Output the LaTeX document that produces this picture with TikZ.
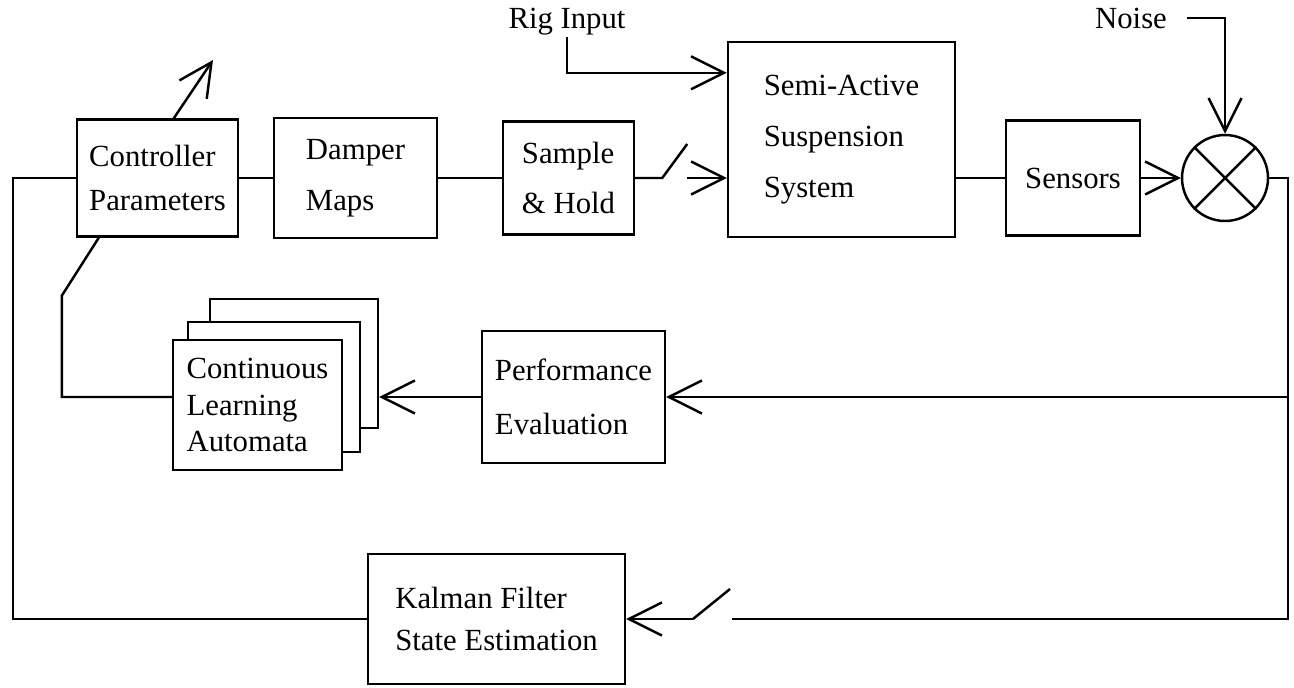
\documentclass[tikz,border=0pt]{standalone}
\usepackage{fontspec}
\setmainfont{Liberation Serif}
\usetikzlibrary{arrows.meta}

\begin{document}
\begin{tikzpicture}[
  x=0.02cm, y=-0.02cm,
  line width=1.4pt,
  >={Straight Barb[length=0.66cm,width=0.66cm]},
  blk/.style={draw,rectangle,align=left,inner sep=0pt,fill=white,
    font=\fontsize{17.5}{21}\selectfont},
  sumj/.style={draw,circle,minimum size=1.72cm,inner sep=0pt},
  lbl/.style={inner sep=0pt,font=\fontsize{17.5}{21}\selectfont}
  ]
  \useasboundingbox (0,0) rectangle (1294,687);

  \node[blk,minimum width=3.22cm,minimum height=2.34cm] (ctrl)   at (157.5,178) {Controller\\[4pt]Parameters};
  \node[blk,minimum width=3.26cm,minimum height=2.40cm] (damper) at (355.5,178) {Damper\\[8pt]Maps};
  \node[blk,minimum width=2.62cm,minimum height=2.26cm] (sh)     at (568.5,178) {Sample\\[8pt]\& Hold};
  \node[blk,minimum width=4.54cm,minimum height=3.90cm] (susp)   at (841.5,139.5) {Semi-Active\\[8pt]Suspension\\[8pt]System};
  \node[blk,minimum width=2.68cm,minimum height=2.30cm] (sens)   at (1073,178) {Sensors};
  \node[sumj]                                           (sum)    at (1225,178) {};

  \node[blk,minimum width=3.36cm,minimum height=2.58cm] (claC)   at (294,363.5) {};
  \node[blk,minimum width=3.44cm,minimum height=2.60cm] (claB)   at (274,387) {};
  \node[blk,minimum width=3.38cm,minimum height=2.60cm] (cla)    at (257.5,405) {Continuous\\Learning\\Automata};
  \node[blk,minimum width=3.66cm,minimum height=2.64cm] (perf)   at (573.5,397) {Performance\\[10pt]Evaluation};
  \node[blk,minimum width=5.14cm,minimum height=2.60cm] (kal)    at (496.5,619) {Kalman Filter\\[3pt]State Estimation};

  \node[lbl] (rig)   at (567,22) {Rig Input};
  \node[lbl] (noise) at (1131,18) {Noise};

  \coordinate (tune)    at (213,60);
  \coordinate (swb)     at (687,178);
  \coordinate (rtop)    at (1288,178);
  \coordinate (rbot)    at (1288,619);
  \coordinate (kswa)    at (693,619);
  \coordinate (kswb)    at (732,619);
  \coordinate (lcorner) at (13,178);

  \draw (ctrl) -- (damper) -- (sh);
  \draw (sh.east) -- ++(27,0) -- ++(25,-34);
  \draw[->] (swb) -- (swb -| susp.west);
  \draw[->] (rig.south) |- ([yshift=-0.64cm]susp.north west);
  \draw (susp.east |- sens.west) -- (sens.west);
  \draw[->] (sens) -- (sum);
  \draw[->] ([xshift=0.38cm]noise.east) -| (sum.north);
  \draw (sum.north east) -- (sum.south west)
        (sum.north west) -- (sum.south east);

  \draw (sum.east) -- (rtop) -- (rbot) -- (kswb);
  \draw[->] (rtop |- perf.east) -- (perf.east);
  \draw[->] (perf.west) -- (perf.west -| claC.east);
  \draw (kswa) -- ++(37,-30);
  \draw[->] (kswa) -- (kal.east);
  \draw (kal.west) -| (lcorner) -- (ctrl.west);

  \draw ([xshift=0.46cm]ctrl.south west) -- ++(-37,58) |- (cla.west |- perf.west);
  \draw[->] ([xshift=1.96cm]ctrl.north west) -- (tune);
\end{tikzpicture}
\end{document}
